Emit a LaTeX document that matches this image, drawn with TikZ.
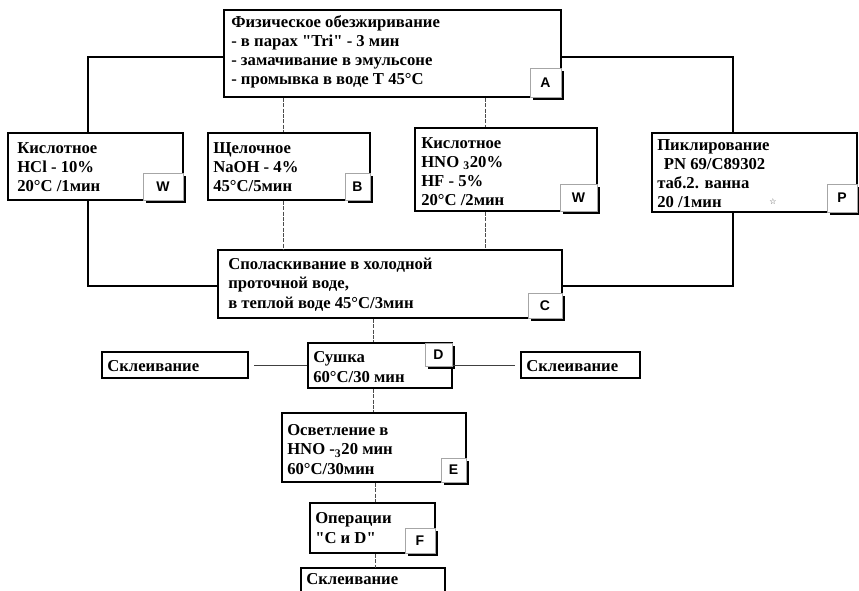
\documentclass[tikz,border=0pt]{standalone}
\usepackage{fontspec}
\setmainfont{Liberation Serif}
\newfontfamily\lblfont{Liberation Sans}
\newfontfamily\symfont{DejaVu Sans}
\usetikzlibrary{fit}
\begin{document}
\begin{tikzpicture}[x=0.75pt,y=-0.75pt,
  mbox/.style={draw, line width=1.3pt, inner sep=0pt, fill=white},
  lbl/.style={draw=gray!70, line width=0.5pt, fill=white, inner sep=0pt},
  lbltxt/.style={inner sep=0pt, font=\lblfont\bfseries\fontsize{10.5}{12}\selectfont},
  txt/.style={anchor=base west, align=left, inner sep=0pt,
    font=\bfseries\fontsize{12.5}{14.4}\selectfont},
  thk/.style={line width=1.3pt},
  thn/.style={line width=0.6pt, gray!60!black, dash pattern=on 3pt off 1pt},
  sol/.style={line width=0.7pt, gray!50!black}]
\useasboundingbox (0,0) rectangle (859,591);

% main boxes
\node[mbox, fit={(224,10)(561,97)}] (A) {};
\node[mbox, fit={(8,133)(183,200)}] (W1) {};
\node[mbox, fit={(208,133)(370,200)}] (B) {};
\node[mbox, fit={(415,128)(597,211)}] (W2) {};
\node[mbox, fit={(652,133)(857,212)}] (P) {};
\node[mbox, fit={(218,250)(562,318)}] (C) {};
\node[mbox, fit={(308,343)(452,388)}] (D) {};
\node[mbox, fit={(102,352)(248,378)}] (SL) {};
\node[mbox, fit={(521,352)(640,378)}] (SR) {};
\node[mbox, fit={(282,413)(466,482)}] (E) {};
\node[mbox, fit={(310,503)(435,553)}] (F) {};
\node[inner sep=0pt, fit={(301,568)(445,592)}] (G) {};
\draw[thk] (G.south west) |- (G.north east) -- (G.south east);

% texts (anchored at the baseline of the last line)
\node[txt] (At) at (231,85) {Физическое обезжиривание\\- в парах \textquotedbl Tri\textquotedbl{} - 3 мин\\- замачивание в эмульсоне\\- промывка в воде Т 45°С};
\node[txt] (W1t) at (17,192) {Кислотное\\HCl - 10\%\\20°C /1мин};
\node[txt] (Bt) at (213,192) {Щелочное\\NaOH - 4\%\\45°C/5мин};
\node[txt] (W2t) at (421,206) {Кислотное\\HNO \textsubscript{3}20\%\\HF - 5\%\\20°C /2мин};
\node[txt] (Pt) at (657,208) {Пиклирование\\\hspace{5pt}PN 69/C89302\\таб.2. ванна\\20 /1мин};
\node[text=gray!60!black, inner sep=0pt, font=\symfont\fontsize{6}{6}\selectfont] (star) at (773,202) {☆};
\node[txt] (Ct) at (228,308) {Споласкивание в холодной\\проточной воде,\\в теплой воде 45°С/3мин};
\node[txt] (Dt) at (313,382) {Сушка\\60°C/30 мин};
\node[txt] (SLt) at (107,371) {Склеивание};
\node[txt] (SRt) at (526,371) {Склеивание};
\node[txt] (Et) at (287,474) {Осветление в\\HNO -\textsubscript{3}20 мин\\60°C/30мин};
\node[txt] (Ft) at (315,543) {Операции\\\textquotedbl C и D\textquotedbl};
\node[txt] (Gt) at (306,584) {Склеивание};

% label boxes with drop shadow
\foreach \n/\t/\ax/\ay/\bx/\by in {Al/A/530/68/561/97, W1l/W/143/173/183/200, Bl/B/345/173/370/200,
    W2l/W/560/184/597/211, Pl/P/827/184/857/212, Cl/C/528/293/562/318, Dl/D/425/343/452/366,
    El/E/441/458/466/482, Fl/F/405/528/435/553}{
  \fill[black] (\ax+3,\ay+3) rectangle (\bx+3,\by+3);
  \node[lbl, fit={(\ax,\ay)(\bx,\by)}] (\n) {};
  \node[lbltxt] (\n t) at (\n.center) {\t};
}

% guide coordinates
\coordinate (xL) at (88,0);
\coordinate (xR) at (733,0);
\coordinate (xB) at (283,0);
\coordinate (xW) at (485,0);
\coordinate (xC) at (373,0);
\coordinate (xE) at (375,0);
\coordinate (yA) at (0,57);
\coordinate (yC) at (0,286);
\coordinate (yD) at (0,365);

% connectors
\draw[thk] (A.west |- yA) -| (W1.north -| xL);
\draw[thk] (A.east |- yA) -| (P.north -| xR);
\draw[thk] (W1.south -| xL) |- (C.west |- yC);
\draw[thk] (P.south -| xR) |- (C.east |- yC);
\draw[thn] (A.south -| xB) -- (B.north -| xB);
\draw[thn] (A.south -| xW) -- (W2.north -| xW);
\draw[thn] (B.south -| xB) -- (C.north -| xB);
\draw[thn] (W2.south -| xW) -- (C.north -| xW);
\draw[thn] (C.south -| xC) -- (D.north -| xC);
\draw[thn] (D.south -| xC) -- (E.north -| xC);
\draw[thn] (E.south -| xE) -- (F.north -| xE);
\draw[thn] (F.south -| xE) -- (G.north -| xE);
\draw[sol, shorten >=3.5pt] (D.west |- yD) -- (SL.east |- yD);
\draw[sol, shorten >=3.5pt] (D.east |- yD) -- (SR.west |- yD);
\end{tikzpicture}
\end{document}
